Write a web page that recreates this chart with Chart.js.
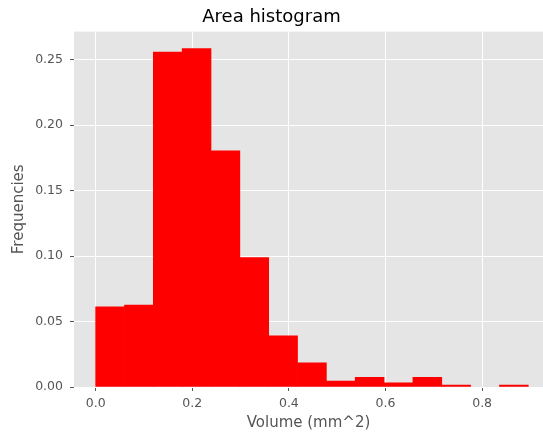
<!DOCTYPE html>
<html>
<head>
<meta charset="utf-8">
<script src="https://cdn.jsdelivr.net/npm/chart.js@4.4.1/dist/chart.umd.min.js"></script>
<style>
  html, body { margin: 0; padding: 0; background: #fff; }
  #wrap { width: 543px; height: 432px; }
</style>
</head>
<body>
<div id="wrap"><canvas id="areaHist"></canvas></div>
<script>
// histogram bins (edges) and relative frequencies
var binEdges = [0.0, 0.0597, 0.1194, 0.1791, 0.2388, 0.2985, 0.3582, 0.4179,
                0.4776, 0.5373, 0.597, 0.6567, 0.7164, 0.7761, 0.8358, 0.8955];
var frequencies = [0.0613, 0.0626, 0.2558, 0.2586, 0.1804, 0.0989, 0.0391, 0.0185,
                   0.0046, 0.0074, 0.0031, 0.0074, 0.0015, 0.0, 0.0015];
var xTicks = [0.0, 0.2, 0.4, 0.6, 0.8];
var yTicks = [0.00, 0.05, 0.10, 0.15, 0.20, 0.25];

var fontFamily = '"DejaVu Sans", sans-serif';

var points = [];
for (var i = 0; i < frequencies.length; i++) {
    points.push({ x: (binEdges[i] + binEdges[i + 1]) / 2, y: frequencies[i] });
}

// grey ggplot-style panel behind the grid
var plotBackground = {
    id: 'plotBackground',
    beforeDraw: function (chart) {
        var a = chart.chartArea;
        var c = chart.ctx;
        c.save();
        c.fillStyle = '#E5E5E5';
        c.fillRect(a.left, a.top, a.right - a.left, a.bottom - a.top);
        c.restore();
    }
};

var ctx = document.getElementById('areaHist').getContext('2d');

var myChart = new Chart(ctx, {
    type: 'bar',
    data: {
        datasets: [{
            label: 'Frequencies',
            data: points,
            // empty bins draw nothing
            backgroundColor: function (c) {
                var v = c.raw ? c.raw.y : 0;
                return v > 0 ? '#FF0000' : 'rgba(0,0,0,0)';
            },
            borderWidth: 0,
            barPercentage: 1.0,
            categoryPercentage: 1.0
        }]
    },
    plugins: [plotBackground],
    options: {
        responsive: true,
        maintainAspectRatio: false,
        animation: false,
        layout: { padding: 0 },
        plugins: {
            legend: { display: false },
            tooltip: { enabled: false },
            title: {
                display: true,
                text: 'Area histogram',
                color: '#000',
                font: { family: fontFamily, size: 18, weight: 'normal' },
                padding: { top: 7, bottom: 3 }
            }
        },
        scales: {
            x: {
                type: 'linear',
                offset: false,
                min: -0.0448,
                max: 0.926,
                afterBuildTicks: function (scale) {
                    scale.ticks = xTicks.map(function (v) { return { value: v }; });
                },
                afterFit: function (scale) { scale.height = 45; },
                ticks: {
                    color: '#555555',
                    padding: 5,
                    maxRotation: 0,
                    font: { family: fontFamily, size: 12.5 },
                    callback: function (v) { return v.toFixed(1); }
                },
                grid: {
                    offset: false,
                    color: '#FFFFFF',
                    lineWidth: 1,
                    tickColor: '#555555',
                    tickLength: 4
                },
                border: { display: false },
                title: {
                    display: true,
                    text: 'Volume (mm^2)',
                    color: '#555555',
                    font: { family: fontFamily, size: 15 },
                    padding: { top: 0, bottom: 0 }
                }
            },
            y: {
                min: 0,
                max: 0.2715,
                afterBuildTicks: function (scale) {
                    scale.ticks = yTicks.map(function (v) { return { value: v }; });
                },
                afterFit: function (scale) { scale.width = 74; },
                ticks: {
                    color: '#555555',
                    padding: 7,
                    font: { family: fontFamily, size: 12.5 },
                    callback: function (v) { return v.toFixed(2); }
                },
                grid: {
                    color: '#FFFFFF',
                    lineWidth: 1,
                    tickColor: '#555555',
                    tickLength: 4
                },
                border: { display: false },
                title: {
                    display: true,
                    text: 'Frequencies',
                    color: '#555555',
                    font: { family: fontFamily, size: 15 },
                    padding: { top: 10, bottom: 0 }
                }
            }
        }
    }
});
</script>
</body>
</html>
